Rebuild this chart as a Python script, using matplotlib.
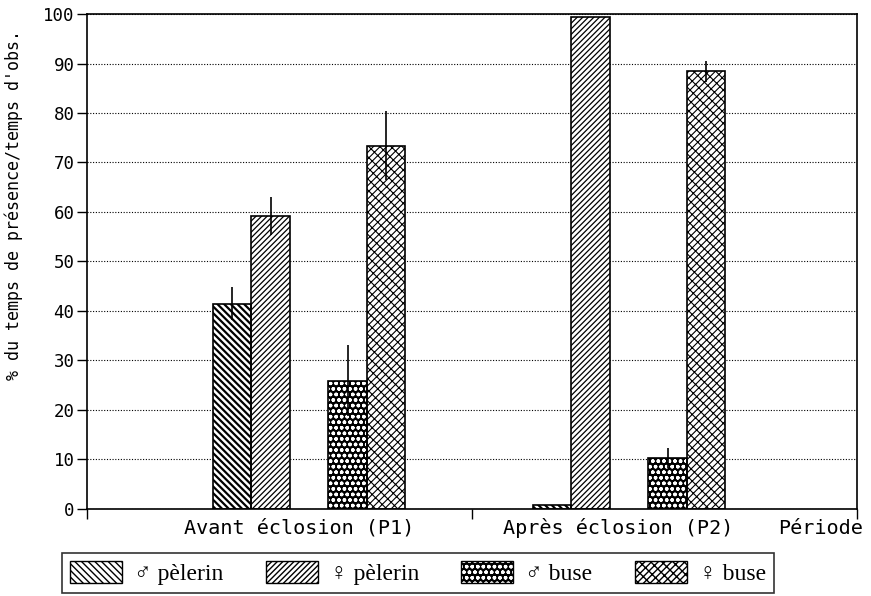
import numpy as np
import matplotlib
matplotlib.use("Agg")
import matplotlib.pyplot as plt
from matplotlib.patches import Patch
from matplotlib.legend_handler import HandlerTuple

# data
periodes = ["Avant éclosion (P1)", "Après éclosion (P2)"]
series = ["♂ pèlerin", "♀ pèlerin", "♂ buse", "♀ buse"]
valeurs = {
    "♂ pèlerin": [41.5, 0.8],
    "♀ pèlerin": [59.2, 99.4],
    "♂ buse": [25.9, 10.3],
    "♀ buse": [73.4, 88.4],
}
erreurs = {
    "♂ pèlerin": [3.4, 0.0],
    "♀ pèlerin": [3.8, 0.0],
    "♂ buse": [7.2, 2.0],
    "♀ buse": [7.0, 2.1],
}

# styles
hatches = {"♂ pèlerin": "\\\\\\\\\\", "♀ pèlerin": "//////", "♂ buse": "ooo", "♀ buse": "//xxx"}
faces = {"♂ pèlerin": "white", "♀ pèlerin": "white", "♂ buse": "black", "♀ buse": "white"}
hcols = {"♂ pèlerin": "black", "♀ pèlerin": "black", "♂ buse": "white", "♀ buse": "black"}
hlw = {"♂ pèlerin": 1.6, "♀ pèlerin": 0.9, "♂ buse": 1.0, "♀ buse": 0.8}

centres = np.array([0.577, 1.408])
decal = {"♂ pèlerin": -0.2, "♀ pèlerin": -0.1, "♂ buse": 0.1, "♀ buse": 0.2}
larg = 0.1

mono = "DejaVu Sans Mono"
serif = ["Liberation Serif", "DejaVu Serif"]

fig = plt.figure(figsize=(8.71, 5.96), dpi=100)
ax = fig.add_axes([0.0999, 0.146, 0.884, 0.8305])


def set_hlw(patches, lw):
    for p in patches:
        if hasattr(p, "set_hatch_linewidth"):
            p.set_hatch_linewidth(lw)


for s in series:
    x = centres + decal[s]
    # hatch colour follows edgecolor, so draw fill+hatch then the outline
    b = ax.bar(x, valeurs[s], width=larg, color=faces[s], edgecolor=hcols[s],
               hatch=hatches[s], linewidth=0, zorder=2)
    set_hlw(b, hlw[s])
    ax.bar(x, valeurs[s], width=larg, fill=False, edgecolor="black",
           linewidth=1.2, zorder=3)
    err = np.array(erreurs[s])
    m = err > 0
    ax.errorbar(x[m], np.array(valeurs[s])[m], yerr=err[m], fmt="none",
                ecolor="black", elinewidth=1.2, capsize=0, zorder=4)

ax.set_xlim(0, 2)
ax.set_ylim(0, 100)
ax.set_yticks(np.arange(0, 101, 10))
ax.set_xticks([0, 1, 2])
ax.set_xticklabels([])
ax.tick_params(axis="both", direction="out", length=7, width=1, color="black")
ax.tick_params(axis="y", pad=2)
for lab in ax.get_yticklabels():
    lab.set_family(mono)
    lab.set_fontsize(12.5)
ax.yaxis.grid(True, linestyle=(0, (1, 1.5)), color="black", linewidth=0.8, zorder=1)
ax.set_axisbelow(True)
for sp in ax.spines.values():
    sp.set_linewidth(1.2)

# group labels
yl = -3.9
for c, p in zip([0.552, 1.38], periodes):
    ax.text(c, yl, p, ha="center", va="center", family=mono, fontsize=14.5)
ax.text(1.905, yl, "Période", ha="center", va="center", family=mono, fontsize=14.5)

fig.text(14 / 871, 1 - 205 / 596, "% du temps de présence/temps d'obs.",
         rotation=90, ha="center", va="center", family=mono, fontsize=12)

handles = []
for s in series:
    h1 = Patch(facecolor=faces[s], edgecolor=hcols[s], hatch=hatches[s], linewidth=0)
    h2 = Patch(fill=False, edgecolor="black", linewidth=1.0)
    handles.append((h1, h2))
leg = fig.legend(handles, series, loc="center", ncol=4,
                 handler_map={tuple: HandlerTuple(ndivide=1, pad=0)},
                 bbox_to_anchor=(418 / 871, 1 - 573 / 596),
                 prop={"family": serif, "size": 17}, frameon=True, fancybox=False,
                 edgecolor="black", handlelength=2.2, handleheight=1.1,
                 columnspacing=1.8, handletextpad=0.5, borderpad=0.35)
leg.get_frame().set_linewidth(1.2)

fig.savefig("out.png", dpi=100)
